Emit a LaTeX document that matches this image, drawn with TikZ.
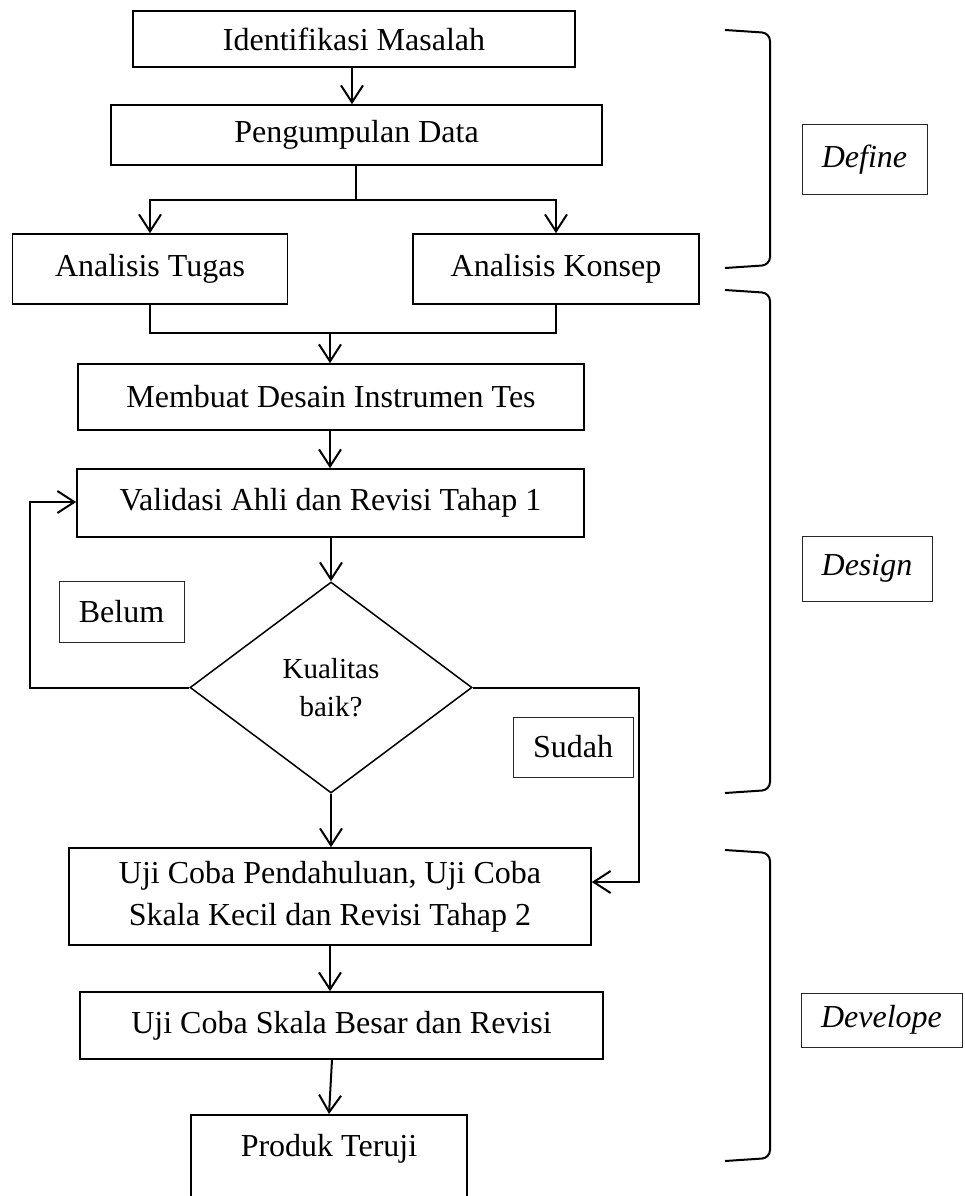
\documentclass[tikz,border=0pt]{standalone}
\usepackage{fontspec}
\setmainfont{Liberation Serif}
\usetikzlibrary{arrows.meta,shapes.geometric,calc}
\tikzset{
  x=1pt,y=-1pt,
  box/.style={draw,line width=1.6pt,rectangle,inner sep=0pt,align=center,font=\fontsize{32}{42}\selectfont},
  lbl/.style={draw,line width=1pt,draw=black!85,rectangle,inner sep=0pt,align=center,font=\fontsize{32}{42}\selectfont},
  phase/.style={lbl,font=\fontsize{32}{42}\selectfont\itshape},
  dec/.style={draw,line width=1.5pt,diamond,inner sep=0pt,align=center,font=\fontsize{29}{38}\selectfont},
  conn/.style={line width=2pt},
  arr/.style={conn,-{Straight Barb[length=17pt,width=22pt,line width=2pt]}},
  brk/.style={line width=2pt,rounded corners=8pt},
}
\begin{document}
\begin{tikzpicture}
\clip (0,0) rectangle (965,1196);
\fill[white] (0,0) rectangle (965,1196);

\node[box,minimum width=442pt,minimum height=56pt] (ident) at (354,39) {Identifikasi Masalah};
\node[box,minimum width=491pt,minimum height=60pt] (kumpul) at (356.5,135) {Pengumpulan Data};
\node[box,minimum width=275pt,minimum height=70pt] (tugas) at (150,269) {Analisis Tugas};
\node[box,minimum width=286pt,minimum height=70pt] (konsep) at (556,269) {Analisis Konsep};
\node[box,minimum width=506pt,minimum height=66pt] (desain) at (331,397) {Membuat Desain Instrumen Tes};
\node[box,minimum width=507pt,minimum height=68pt] (valid) at (330.5,503) {Validasi Ahli dan Revisi Tahap 1};
\node[dec,minimum width=282pt,minimum height=211pt] (dia) at (331,687.5) {Kualitas\\baik?};
\node[lbl,minimum width=125pt,minimum height=61pt] (belum) at (121.5,611.5) {Belum};
\node[lbl,minimum width=120pt,minimum height=60pt] (sudah) at (573,747) {Sudah};
\node[box,minimum width=522pt,minimum height=97pt] (uji1) at (330,896.5) {Uji Coba Pendahuluan, Uji Coba\\Skala Kecil dan Revisi Tahap 2};
\node[box,minimum width=523pt,minimum height=67pt] (uji2) at (341.5,1025.5) {Uji Coba Skala Besar dan Revisi};
\node[box,anchor=north,minimum width=276pt,text height=30pt,text depth=90pt,inner ysep=12pt] (produk) at (329,1114) {Produk Teruji};

\node[phase,minimum width=125pt,minimum height=69pt] (define) at (864.5,159.5) {Define};
\node[phase,minimum width=130pt,minimum height=65pt] (design) at (867,568.5) {Design};
\node[phase,minimum width=161pt,minimum height=54pt] (develope) at (881.5,1020) {Develope};

\coordinate (sp) at (356,200);
\coordinate (mg) at (330,333);
\coordinate (loopL) at (30,502);
\coordinate (loopR) at (639,882);

\draw[arr] (ident.south -| 352,0) -- (kumpul.north -| 352,0);
\draw[conn] (kumpul.south -| sp) -- (sp);
\draw[arr] (sp) -| (tugas.north);
\draw[arr] (sp) -| (konsep.north);
\draw[conn] (tugas.south) |- (mg) -| (konsep.south);
\draw[arr] (mg) -- (desain.north -| mg);
\draw[arr] (desain.south -| mg) -- (valid.north -| mg);
\draw[arr] (valid.south -| dia.north) -- (dia.north);
\draw[arr] (dia.west) -| (loopL) -- (valid.west |- loopL);
\draw[arr] (dia.east) -| (loopR) -- (uji1.east |- loopR);
\draw[arr] (dia.south) -- (uji1.north -| dia.south);
\draw[arr] (uji1.south -| mg) -- (uji2.north -| mg);
\draw[arr] (uji2.south -| 332,0) -- (produk.north);

\draw[brk] (725,30) -- (770,33) -- (770,265) -- (725,268);
\draw[brk] (725,290) -- (770,293) -- (770,790) -- (725,793);
\draw[brk] (725,850) -- (770,853) -- (770,1158) -- (725,1161);
\end{tikzpicture}
\end{document}
